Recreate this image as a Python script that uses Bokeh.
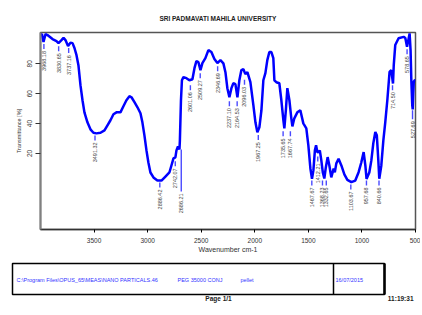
import math
from bokeh.plotting import figure
from bokeh.models import Range1d, FixedTicker, Title
from bokeh.layouts import column
from bokeh.embed import file_html
from bokeh.resources import INLINE
from bokeh.core.properties import value

# ---------------- data ----------------
wavenumber = [
    4000, 3986, 3972, 3953, 3935, 3888, 3851, 3832, 3804, 3785,
    3767, 3743, 3720, 3701, 3683, 3664, 3646, 3627, 3608, 3590,
    3562, 3534, 3506, 3478, 3440, 3403, 3375, 3347, 3319, 3291,
    3254, 3226, 3198, 3170, 3151, 3123, 3095, 3067, 3049, 3030,
    3011, 2993, 2974, 2946, 2909, 2871, 2834, 2797, 2778, 2759,
    2741, 2731, 2717, 2703, 2699, 2689, 2680, 2666, 2638, 2610,
    2582, 2563, 2545, 2526, 2507, 2489, 2461, 2433, 2405, 2377,
    2349, 2321, 2293, 2274, 2256, 2237, 2218, 2200, 2181, 2162,
    2144, 2125, 2106, 2088, 2069, 2041, 2013, 1994, 1976, 1957,
    1938, 1920, 1901, 1883, 1864, 1845, 1827, 1817, 1799, 1771,
    1752, 1733, 1724, 1710, 1696, 1677, 1659, 1649, 1631, 1603,
    1575, 1547, 1519, 1500, 1481, 1466, 1453, 1439, 1428, 1416,
    1404, 1393, 1379, 1365, 1351, 1337, 1320, 1304, 1286, 1264,
    1253, 1239, 1218, 1192, 1164, 1136, 1099, 1062, 1031, 1006,
    984, 968, 957, 931, 912, 894, 875, 861, 847, 838,
    819, 800, 782, 763, 742, 726, 710, 703, 689, 658,
    611, 595, 579, 567, 555, 546, 539, 530, 526, 521,
    516, 507, 500,
]
transmittance = [
    99.5, 99.8, 94.6, 99.9, 99.3, 96.6, 95.3, 93.9, 95.9, 97.5,
    95.9, 91.9, 94.2, 93.9, 90.6, 85.8, 79.1, 65.7, 55.6, 47.5,
    40.8, 36.1, 33.8, 33.4, 33.8, 35.4, 38.8, 42.2, 46.2, 47.5,
    47.5, 51.6, 55.6, 58.3, 57.6, 54.3, 50.9, 46.9, 40.8, 32.1,
    22.0, 13.9, 7.2, 3.9, 1.8, 1.8, 4.5, 7.2, 11.9, 16.6,
    17.3, 22.0, 24.7, 22.7, 28.7, 55.6, 69.0, 71.1, 70.4, 69.0,
    69.7, 77.1, 81.8, 81.1, 75.8, 80.5, 83.8, 89.2, 87.9, 83.2,
    80.5, 82.5, 80.3, 74.4, 63.7, 57.6, 63.7, 67.0, 66.4, 57.6,
    69.0, 75.8, 76.4, 73.1, 74.4, 67.7, 52.2, 40.8, 34.1, 37.5,
    48.9, 69.0, 73.8, 82.5, 87.9, 87.9, 83.8, 69.0, 67.7, 67.0,
    55.6, 42.2, 36.8, 48.9, 63.7, 55.6, 43.5, 38.1, 43.5, 47.5,
    48.9, 40.1, 36.8, 25.4, 9.9, 3.0, 8.6, 22.0, 25.4, 20.7,
    20.9, 22.0, 15.3, 7.2, 3.2, 10.6, 17.5, 11.9, 3.9, 9.9,
    7.3, 13.3, 16.4, 11.9, 5.9, 2.2, 0.7, 1.8, 7.4, 13.9,
    20.9, 11.9, 2.9, 7.2, 15.3, 26.7, 34.3, 32.1, 15.3, 3.0,
    11.9, 28.7, 41.0, 55.6, 74.6, 75.8, 66.8, 79.1, 92.6, 97.1,
    98.1, 97.3, 91.4, 95.9, 100.4, 89.2, 69.0, 52.0, 49.5, 60.0,
    68.0, 69.0, 69.0,
]
assert len(wavenumber) == len(transmittance)

peak_wn = [3968.18, 3830.65, 3737.16, 3491.32, 2886.42, 2742.07, 2686.21,
           2601.06, 2509.27, 2346.69, 2237.10, 2164.53, 2096.03, 1967.25,
           1735.65, 1667.74, 1467.67, 1412.21, 1368.23, 1332.65, 1103.67,
           957.68, 840.66, 714.50, 578.65, 527.69]
peak_t = [94.6, 93.2, 91.9, 33.4, 1.8, 16.0, 24.0,
          67.0, 75.1, 79.8, 56.3, 56.3, 70.6, 33.6,
          36.1, 36.1, 3.2, 19.3, 3.2, 3.2, 0.5,
          3.2, 3.2, 67.0, 91.2, 50.2]
peak_text = ["%.2f" % v for v in peak_wn]

x_ticks = [3500, 3000, 2500, 2000, 1500, 1000, 500]
y_ticks = [20, 40, 60, 80]

title_text = "SRI PADMAVATI MAHILA UNIVERSITY"
x_title = "Wavenumber cm-1"
y_title = "Transmittance [%]"
footer_texts = ["C:\\Program Files\\OPUS_65\\MEAS\\NANO PARTICALS.46", "PEG 35000 CONJ", "pellet", "16/07/2015"]
page_text = "Page 1/1"
time_text = "11:19:31"

# label drop lengths (screen px) below each peak
label_drop = [9] * len(peak_wn)
label_drop[6] = 46
label_drop[25] = 13

# ---------------- layout ----------------
W = 420
H_HEAD, H_MAIN, H_FOOT = 26, 230, 58
BL, BT, BR, BB = 40, 6, 5, 27
X0, X1 = 4000, 500
Y0, Y1 = -31, 101
frame_h = H_MAIN - BT - BB
upp = (Y1 - Y0) / frame_h
FONT = "Liberation Sans"


def blank(height, y_top):
    fig = figure(width=W, height=height, x_range=Range1d(0, W), y_range=Range1d(y_top + height, y_top),
                 output_backend="svg", toolbar_location=None, x_axis_type=None, y_axis_type=None,
                 min_border=0, outline_line_color=None)
    fig.frame_align = False
    fig.xgrid.visible = False
    fig.ygrid.visible = False
    return fig


# ---------------- header ----------------
h = blank(H_HEAD, 0)
h.text(x=[217.5], y=[17.5], text=[title_text], text_align="center", text_baseline="middle",
       text_font_size="6.5px", text_font_style="bold", text_font=value(FONT), text_color="#222222")

# ---------------- main plot ----------------
p = figure(width=W, height=H_MAIN, x_range=Range1d(X0, X1), y_range=Range1d(Y0, Y1),
           output_backend="svg", toolbar_location=None,
           min_border_left=BL, min_border_right=BR, min_border_top=BT, min_border_bottom=BB)
p.frame_align = False
p.xgrid.visible = False
p.ygrid.visible = False
p.outline_line_color = "#555555"
p.outline_line_width = 1.5

p.line(wavenumber, transmittance, line_color="#0000ff", line_width=2.5)

seg_y0 = [t - 2 * upp for t in peak_t]
seg_y1 = [t - (d - 2) * upp for t, d in zip(peak_t, label_drop)]
p.segment(x0=peak_wn, y0=seg_y0, x1=peak_wn, y1=seg_y1, line_color="#4a4aff", line_width=1.4)
p.text(x=peak_wn, y=peak_t, text=peak_text, angle=math.pi / 2, y_offset=label_drop,
       text_align="right", text_baseline="middle", text_font_size="5.5px",
       text_font=value(FONT), text_color="#444444")

for ax in (p.xaxis[0], p.yaxis[0]):
    ax.minor_tick_line_color = None
    ax.major_tick_in = 0
    ax.major_label_text_font = FONT
    ax.major_label_text_font_size = "6.5px"
    ax.major_label_text_color = "#333333"
    ax.axis_label_text_font = FONT
    ax.axis_label_text_font_style = "normal"
    ax.axis_label_text_color = "#333333"

p.xaxis.ticker = FixedTicker(ticks=x_ticks)
p.xaxis.major_tick_out = 3
p.xaxis.major_label_standoff = 5
p.xaxis.axis_line_color = "#333333"
p.xaxis.axis_line_width = 1.5
p.xaxis.axis_label = x_title
p.xaxis.axis_label_text_font_size = "7px"
p.xaxis.axis_label_standoff = 0

p.yaxis.ticker = FixedTicker(ticks=y_ticks)
p.yaxis.major_tick_out = 5
p.yaxis.major_label_standoff = 3
p.yaxis.major_label_orientation = "vertical"
p.yaxis.axis_line_color = "#808080"
p.yaxis.axis_line_width = 2
p.yaxis.major_tick_line_color = "#333333"

p.add_layout(Title(text=y_title, align="center", offset=17.5, standoff=6,
                   text_font=FONT, text_font_size="5.5px", text_font_style="normal",
                   text_color="#333333"), "left")

# ---------------- footer ----------------
y_foot = H_HEAD + H_MAIN
f = blank(H_FOOT, y_foot)
f.quad(left=[12], right=[384], top=[263], bottom=[294], fill_color=None, line_color="black", line_width=1.5)
f.segment(x0=[333], y0=[263], x1=[333], y1=[294], line_color="black", line_width=1.5)
f.segment(x0=[384], y0=[263], x1=[384], y1=[294], line_color="black", line_width=2.5)
f.text(x=[16, 177, 240, 335], y=[279, 279, 279, 279], text=footer_texts,
       text_align="left", text_baseline="middle", text_font_size="5.5px",
       text_font=value(FONT), text_color="#3333ff")
f.text(x=[218], y=[297.5], text=[page_text], text_align="center", text_baseline="middle",
       text_font_size="6.5px", text_font_style="bold", text_font=value(FONT), text_color="#222222")
f.text(x=[413], y=[297.5], text=[time_text], text_align="right", text_baseline="middle",
       text_font_size="6.5px", text_font_style="bold", text_font=value(FONT), text_color="#222222")

layout = column(h, p, f, spacing=0)
open("out.html", "w").write(file_html(layout, INLINE))
